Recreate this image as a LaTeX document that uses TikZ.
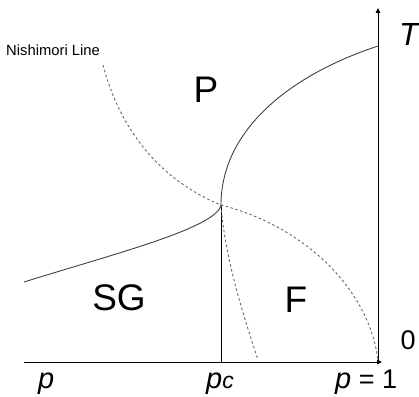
\documentclass[tikz,border=0pt]{standalone}
\usepackage{fontspec}
\setmainfont{Liberation Sans}
\usetikzlibrary{arrows.meta}
\begin{document}
\begin{tikzpicture}[x=1pt,y=-1pt,
  axis/.style={draw=black,line width=0.9pt,-{Triangle[length=5pt,width=4.5pt]}},
  phase/.style={draw=black!75,line width=0.9pt},
  nish/.style={draw=black!60,line width=0.9pt,dash pattern=on 2.5pt off 2.5pt},
  big/.style={font=\fontsize{37}{38}\selectfont,inner sep=0pt},
  lbl/.style={font=\fontsize{29}{30}\selectfont\itshape,inner sep=0pt,anchor=base west}]
\useasboundingbox (0,0) rectangle (419,396);
% axes
\coordinate (O) at (378,362);
\coordinate (Ttop) at (378,8);
\coordinate (Xl) at (24,362);
\coordinate (Xr) at (382,362);
\coordinate (C) at (221,205);
\coordinate (Cb) at (221,362);
\coordinate (Tc) at (378,46);
\coordinate (SGl) at (24,282);
\coordinate (Ns) at (103,65);
\coordinate (Ne) at (378,360);
\coordinate (De) at (258,360);
\draw[axis] (O) -- (Ttop);
\draw[axis] (Xl) -- (Xr);
\draw[line width=0.9pt] (C) -- (Cb);
% phase boundaries
\draw[phase] (Tc) .. controls (290,75) and (221,130) .. (C);
\draw[phase] (SGl) .. controls (110,255) and (217,228) .. (C);
% Nishimori line
\draw[nish] (Ns) .. controls (120,130) and (160,180) .. (C)
  .. controls (300,225) and (368,285) .. (Ne);
\draw[nish] (C) .. controls (225,260) and (245,320) .. (De);
% labels
\node[font=\fontsize{14.8}{16}\selectfont,inner sep=0pt,anchor=west] (nl) at (6,50) {Nishimori Line};
\node[big] (P) at (206,90) {P};
\node[big] (SG) at (119,298) {SG};
\node[big] (F) at (296,300) {F};
\node[font=\fontsize{32}{33}\selectfont\itshape,inner sep=0pt] (T) at (409,34) {T};
\node[font=\fontsize{27}{28}\selectfont,inner sep=0pt] (zero) at (408,340) {0};
\node[lbl] (p) at (38,388) {p};
\node[lbl] (pc) at (206,388) {p\fontsize{23}{23}\selectfont c};
\node[lbl] (p1) at (335,388) {p\fontsize{27}{27}\selectfont\upshape\ = 1};
\end{tikzpicture}
\end{document}
